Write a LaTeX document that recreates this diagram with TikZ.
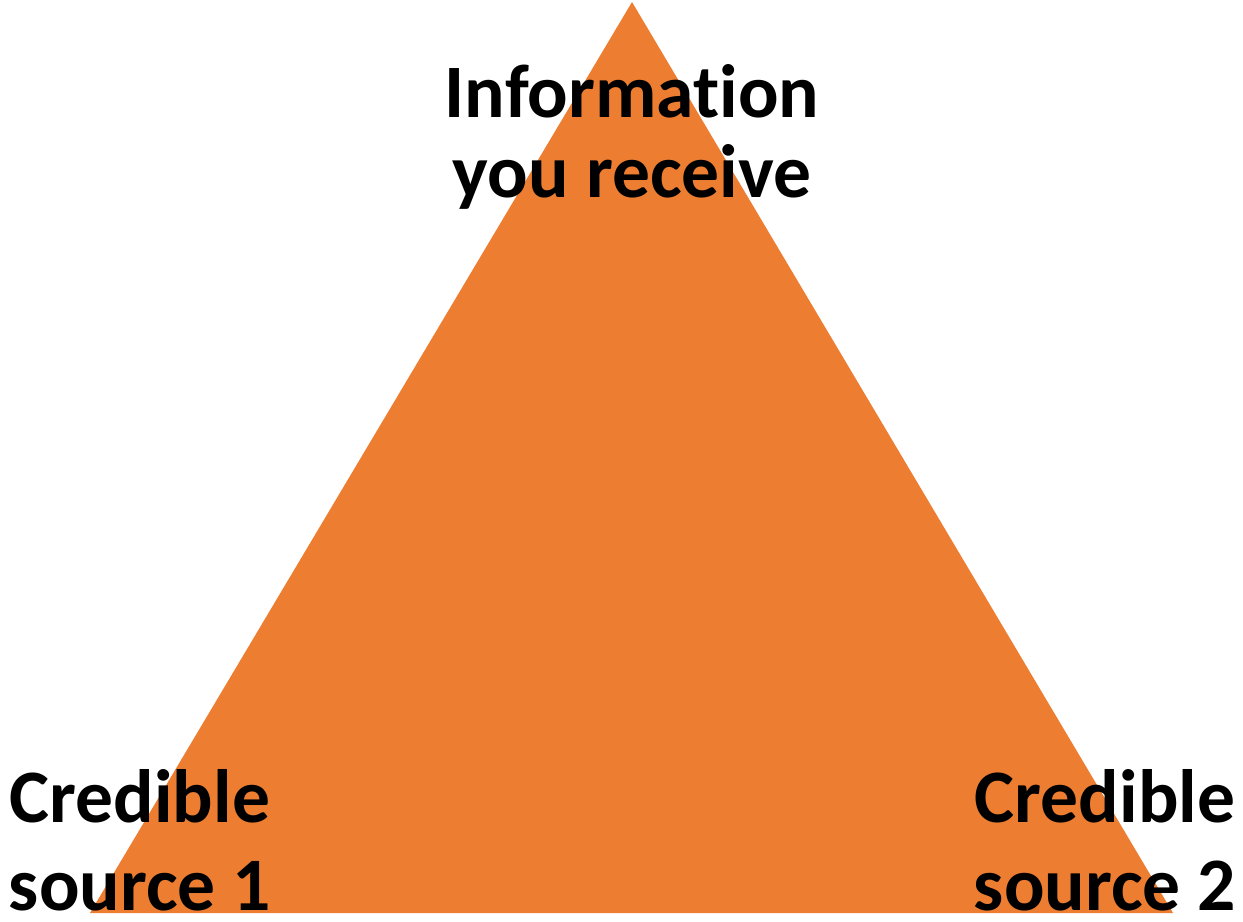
\documentclass[tikz,border=0pt]{standalone}
\usepackage{fontspec}
\setmainfont{Carlito}[Ligatures=NoCommon]
\usepackage{tikz}
\usetikzlibrary{positioning}
\usepackage{color}
\definecolor{carrot}{RGB}{237, 125, 49}

\tikzset{
    corner/.style={font=\bfseries\fontsize{43}{45}\selectfont, align=center, inner sep=0pt, anchor=base},
    lowcorner/.style={corner, font=\bfseries\fontsize{43}{50}\selectfont}
}

\begin{document}
\begin{tikzpicture}[x=0.02cm, y=-0.02cm]
            \useasboundingbox                                             (0, 0) rectangle (1243, 922);
            \coordinate (apex)  at (632,   2);
            \coordinate (left)  at ( 90, 913);
            \coordinate (right) at (1173, 913);
            \fill[carrot]                                                 (apex) -- (left) -- (right) -- cycle;
            % base anchor sits on the last line
            \node[corner]    (info)    at (632, 197) {Information\\you receive};
            \node[lowcorner] (source1) at (140, 910) {Credible\\source 1};
            \node[lowcorner] (source2) at (1105, 910) {Credible\\source 2};
        \end{tikzpicture}
\end{document}
